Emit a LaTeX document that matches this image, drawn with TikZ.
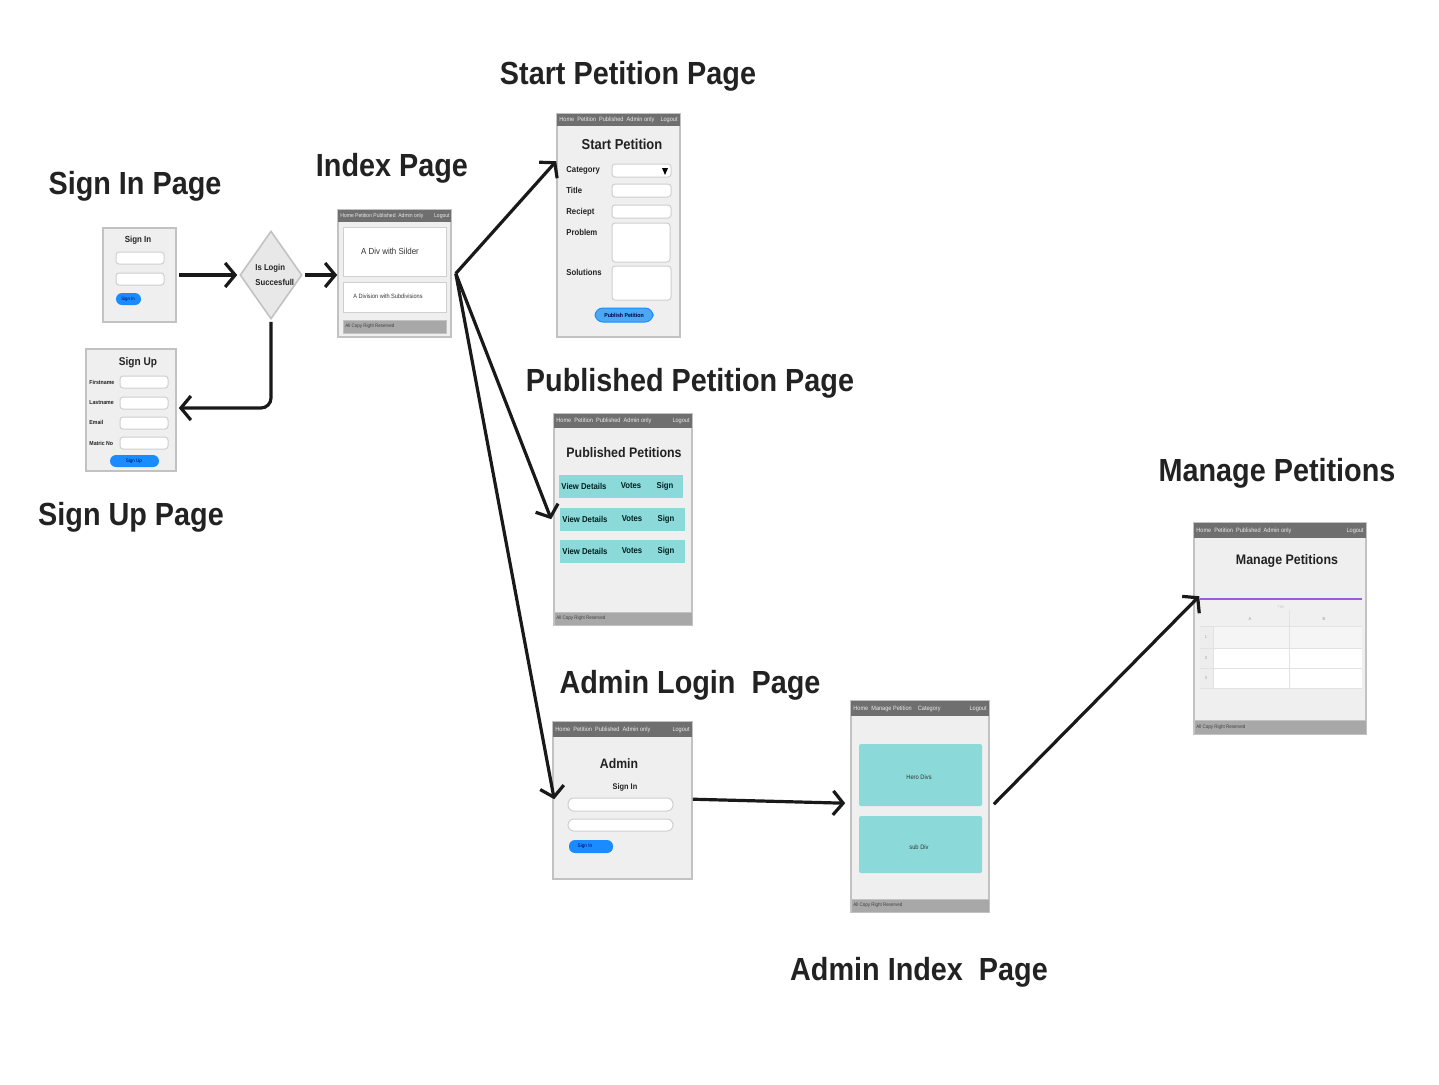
\documentclass[tikz,border=0pt]{standalone}
\usepackage{fontspec}
\setmainfont{Liberation Sans}[FakeStretch=0.9]
\usetikzlibrary{arrows.meta,shapes.geometric,fit}
\definecolor{pgfill}{HTML}{EFEFEF}
\definecolor{pgborder}{HTML}{C2C2C2}
\definecolor{hdrgrey}{HTML}{6F6F6F}
\definecolor{ftrgrey}{HTML}{A8A8A8}
\definecolor{fldborder}{HTML}{CFCFCF}
\definecolor{btnblue}{HTML}{1A8CFF}
\definecolor{btnlight}{HTML}{4AA9F2}
\definecolor{tealc}{HTML}{8CD9D9}
\definecolor{titlecol}{HTML}{222222}
\definecolor{purplec}{HTML}{9B59E8}
\definecolor{tblline}{HTML}{E2E2E2}
\newcommand\pghead[7]{%
  \fill[hdrgrey] (#2,#4) rectangle (#3,#5);
  \node[htxt, anchor=west] (#1hl) at ({#2+2},{(#4+#5)/2}) {#6};
  \node[htxt, anchor=east] (#1hr) at ({#3-2},{(#4+#5)/2}) {#7};
}
\newcommand\pgfoot[5]{%
  \draw[ftr] (#2,#4) rectangle (#3,#5);
  \node[ftxt] (#1ft) at ({#2+2},{(#4+#5)/2}) {All Copy Right Reserved};
}
\begin{document}
\begin{tikzpicture}[x=0.5pt,y=-0.5pt,
  pg/.style={draw=pgborder, fill=pgfill, line width=0.8pt, inner sep=0pt},
  ftr/.style={fill=ftrgrey, draw=pgborder, line width=0.4pt},
  fld/.style={fill=white, draw=fldborder, line width=0.5pt, rounded corners=1.5pt},
  btn/.style={fill=btnblue, rounded corners=3pt},
  htxt/.style={font=\fontsize{3.1}{3.5}\selectfont, text=white!92!black, inner sep=0pt},
  ftxt/.style={font=\fontsize{2.5}{3}\selectfont, text=black!75, inner sep=0pt, anchor=west},
  ttl/.style={font=\fontsize{16}{19}\selectfont\bfseries, text=titlecol, inner sep=0pt, anchor=base},
  lbl/.style={font=\fontsize{4.3}{5}\selectfont\bfseries, text=titlecol, inner sep=0pt},
  tiny/.style={font=\fontsize{3}{3.5}\selectfont, text=black!80, inner sep=0pt},
  arr/.style={line width=1.6pt, draw=black!90, -{Straight Barb[length=5pt,width=12pt]}},
]
\useasboundingbox[fill=white] (0,0) rectangle (1439,1084);

% ---------- titles
\node[ttl] (tsi) at (135,194) {Sign In Page};
\node[ttl] (tsu) at (131,525) {Sign Up Page};
\node[ttl] (tix) at (392,176) {Index Page};
\node[ttl] (tsp) at (628,84) {Start Petition Page};
\node[ttl] (tpp) at (690,391) {Published Petition Page};
\node[ttl] (tmp) at (1277,481) {Manage Petitions};
\node[ttl] (tal) at (690,693) {Admin Login~~Page};
\node[ttl] (tai) at (919,980) {Admin Index~~Page};

% ---------- Sign In page
\node[pg, fit={(103,228) (176,322)}] (si) {};
\node[lbl, font=\fontsize{4.4}{5}\selectfont\bfseries] (sit) at (138,240) {Sign In};
\draw[fld] (116,252) rectangle (164,264);
\draw[fld] (116,273) rectangle (164,285);
\fill[btn] (116,293) rectangle (141,305);
\node[tiny, text=blue!40!black, font=\fontsize{2.4}{3}\selectfont] (sib) at (128,299) {Sign In};

% ---------- decision
\node[diamond, draw=pgborder, fill=black!9, line width=0.8pt, minimum width=31pt, minimum height=44pt, inner sep=0pt] (dia) at (271,275) {};
\node[lbl, align=left, anchor=west, font=\fontsize{4.3}{7.5}\selectfont\bfseries] (diat) at (255,275) {Is Login\\Succesfull};

% ---------- Sign Up page
\node[pg, fit={(86,349) (176,471)}] (su) {};
\node[lbl, font=\fontsize{5.6}{6}\selectfont\bfseries] (sut) at (138,363) {Sign Up};
\node[lbl, anchor=west, font=\fontsize{2.9}{3}\selectfont\bfseries] (su1) at (89,382) {Firstname};
\node[lbl, anchor=west, font=\fontsize{2.9}{3}\selectfont\bfseries] (su2) at (89,403) {Lastname};
\node[lbl, anchor=west, font=\fontsize{2.9}{3}\selectfont\bfseries] (su3) at (89,422) {Email};
\node[lbl, anchor=west, font=\fontsize{2.9}{3}\selectfont\bfseries] (su4) at (89,443) {Matric No};
\draw[fld] (120,376) rectangle (168,388);
\draw[fld] (120,397) rectangle (168,409);
\draw[fld] (120,417) rectangle (168,429);
\draw[fld] (120,437) rectangle (168,449);
\fill[btn] (110,455) rectangle (159,467);
\node[tiny, text=blue!40!black, font=\fontsize{2.5}{3}\selectfont] (sub) at (134,461) {Sign Up};

% ---------- Index page
\node[pg, fit={(338,210) (451,337)}] (idx) {};
\fill[hdrgrey] (338,210) rectangle (451,222);
\node[htxt, anchor=west, font=\fontsize{2.8}{3}\selectfont] (ixhl) at (340,216) {Home Petition Published\enspace Admin only};
\node[htxt, anchor=east, font=\fontsize{2.8}{3}\selectfont] (ixhr) at (450,216) {Logout};
\draw[fld, rounded corners=0pt] (343,227) rectangle (446,276);
\node[tiny, font=\fontsize{4.4}{5}\selectfont] (ix1) at (390,251) {A Div with Silder};
\draw[fld, rounded corners=0pt] (343,282) rectangle (446,312);
\node[tiny, font=\fontsize{3.1}{4}\selectfont] (ix2) at (388,296) {A Division with Subdivisions};
\pgfoot{ix}{343}{446}{320}{333}

% ---------- Start Petition page
\node[pg, fit={(557,114) (680,337)}] (sp) {};
\pghead{sp}{557}{680}{114}{126}{Home\enspace Petition\enspace Published\enspace Admin only}{Logout}
\node[lbl, font=\fontsize{7.2}{8}\selectfont\bfseries] (spt) at (622,144) {Start Petition};
\node[lbl, anchor=west] (sp1) at (566,170) {Category};
\node[lbl, anchor=west] (sp2) at (566,190) {Title};
\node[lbl, anchor=west] (sp3) at (566,212) {Reciept};
\node[lbl, anchor=west] (sp4) at (566,232) {Problem};
\node[lbl, anchor=west] (sp5) at (566,272) {Solutions};
\draw[fld] (612,164) rectangle (671,177);
\fill[black] (662,168) -- (668,168) -- (665,175) -- cycle;
\draw[fld] (612,184) rectangle (671,197);
\draw[fld] (612,205) rectangle (671,218);
\draw[fld] (612,223) rectangle (670,262);
\draw[fld] (612,266) rectangle (671,300);
\draw[fill=btnlight, draw=btnblue, line width=0.5pt, rounded corners=4pt] (595,308) rectangle (653,322);
\node[tiny, text=blue!30!black, font=\fontsize{2.9}{3}\selectfont\bfseries] (spb) at (624,315) {Publish Petition};

% ---------- Published Petition page
\node[pg, fit={(554,414) (692,625)}] (pp) {};
\pghead{pp}{554}{692}{414}{428}{Home\enspace Petition\enspace Published\enspace Admin only}{Logout}
\node[lbl, font=\fontsize{6.9}{8}\selectfont\bfseries] (ppt) at (624,453) {Published Petitions};
\foreach \yy/\xa/\xb [count=\i] in {475/559/683, 508/560/685, 540/560/685}{
  \fill[tealc] (\xa,\yy) rectangle (\xb,\yy+23);
  \node[lbl, text=black!75!teal] (ppv\i) at (\xa+25,\yy+11) {View Details};
  \node[lbl, text=black!75!teal] (ppo\i) at (\xa+72,\yy+11) {Votes};
  \node[lbl, text=black!75!teal] (pps\i) at (\xa+106,\yy+11) {Sign};
}
\pgfoot{pp}{554}{692}{612}{625}

% ---------- Admin Login page
\node[pg, fit={(553,722) (692,879)}] (al) {};
\pghead{al}{553}{692}{722}{737}{Home\enspace Petition\enspace Published\enspace Admin only}{Logout}
\node[lbl, font=\fontsize{6.8}{8}\selectfont\bfseries] (alt) at (619,764) {Admin};
\node[lbl, font=\fontsize{4.1}{5}\selectfont\bfseries] (als) at (625,787) {Sign In};
\draw[fld, rounded corners=3pt] (568,798) rectangle (673,811);
\draw[fld, rounded corners=3pt] (568,819) rectangle (673,831);
\fill[btn] (569,840) rectangle (613,853);
\node[tiny, text=blue!40!black, font=\fontsize{2.6}{3}\selectfont] (alb) at (585,846) {Sign In};

% ---------- Admin Index page
\node[pg, fit={(851,701) (989,912)}] (ai) {};
\pghead{ai}{851}{989}{701}{716}{Home\enspace Manage Petition\quad Category}{Logout}
\fill[tealc, rounded corners=1pt] (859,744) rectangle (982,806);
\node[tiny, font=\fontsize{3.2}{4}\selectfont] (ai1) at (919,777) {Hero Divs};
\fill[tealc, rounded corners=1pt] (859,816) rectangle (982,873);
\node[tiny, font=\fontsize{3.2}{4}\selectfont] (ai2) at (919,847) {sub Div};
\pgfoot{ai}{851}{989}{899}{912}

% ---------- Manage Petitions page
\node[pg, fit={(1194,523) (1366,734)}] (mp) {};
\pghead{mp}{1194}{1366}{523}{538}{Home\enspace Petition\enspace Published\enspace Admin only}{Logout}
\node[lbl, font=\fontsize{6.9}{8}\selectfont\bfseries] (mpt) at (1287,561) {Manage Petitions};
\fill[black!6] (1200,600) rectangle (1362,626);
\fill[black!7] (1200,626) rectangle (1213,688);
\fill[black!4] (1213,626) rectangle (1362,648);
\fill[white] (1213,648) rectangle (1362,688);
\draw[tblline, line width=0.4pt] (1200,626) -- (1362,626) (1200,648) -- (1362,648) (1200,668) -- (1362,668) (1200,688) -- (1362,688) (1213,626) -- (1213,688) (1289,610) -- (1289,688);
\draw[purplec, line width=1.3pt] (1200,599) -- (1362,599);
\node[tiny, text=black!20, font=\fontsize{2}{3}\selectfont] (mph) at (1281,607) {Title};
\node[tiny, text=black!40, font=\fontsize{2.2}{3}\selectfont] (mpa) at (1250,619) {A};
\node[tiny, text=black!40, font=\fontsize{2.2}{3}\selectfont] (mpb) at (1324,619) {B};
\node[tiny, text=black!40, font=\fontsize{2.2}{3}\selectfont] (mp1) at (1206,637) {1};
\node[tiny, text=black!40, font=\fontsize{2.2}{3}\selectfont] (mp2) at (1206,658) {2};
\node[tiny, text=black!40, font=\fontsize{2.2}{3}\selectfont] (mp3) at (1206,678) {3};
\pgfoot{mp}{1194}{1366}{720}{734}

% ---------- connectors
\draw[arr] ([xshift=1pt]si.east) -- ([xshift=-1pt]dia.west);
\draw[arr] ([xshift=1pt]dia.east) -- (idx.west |- dia.east);
\draw[arr, rounded corners=5pt] ([yshift=-1pt]dia.south) |- ([xshift=1pt,yshift=1pt]su.east);
\draw[arr] ([xshift=2pt]idx.east) -- ([yshift=-24pt]sp.north west);
\draw[arr] ([xshift=2pt]idx.east) -- ([xshift=-1pt,yshift=-53pt]pp.north west);
\draw[arr] ([xshift=2pt]idx.east) -- ([xshift=1pt,yshift=-39pt]al.north west);
\draw[arr] ([yshift=-39pt]al.north east) -- ([xshift=-2.5pt,yshift=-51.5pt]ai.north west);
\draw[arr] ([xshift=2pt,yshift=-52pt]ai.north east) -- ([xshift=3pt,yshift=-37pt]mp.north west);
\end{tikzpicture}
\end{document}
